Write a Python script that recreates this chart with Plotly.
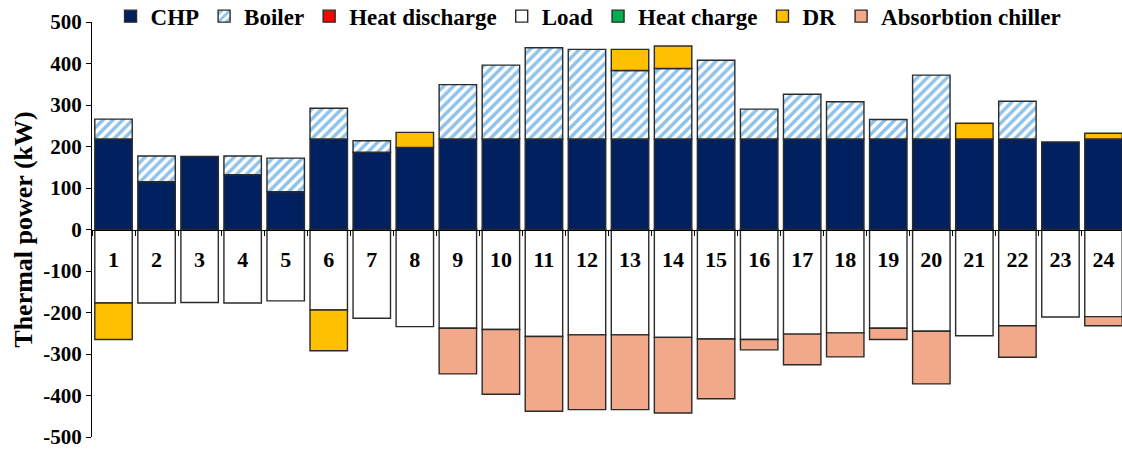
import plotly.graph_objects as go

# Hourly thermal balance (kW); supply stacks upward, consumption downward
hours = [str(h) for h in range(1, 25)]

chp = [218, 115, 176, 132, 91, 218, 186, 198, 218, 218, 218, 218,
       218, 218, 218, 218, 218, 218, 218, 218, 218, 218, 211, 218]
boiler = [48, 62, 0, 45, 81, 74, 28, 0, 131, 178, 220, 216,
          165, 170, 190, 72, 108, 90, 47, 154, 0, 91, 0, 0]
heat_discharge = [0] * 24
load = [-177, -177, -176, -177, -172, -194, -214, -234, -238, -241, -258, -254,
        -254, -260, -264, -265, -252, -249, -238, -245, -256, -232, -211, -210]
heat_charge = [0] * 24
dr = [-88, 0, 0, 0, 0, -98, 0, 36, 0, 0, 0, 0,
      51, 54, 0, 0, 0, 0, 0, 0, 38, 0, 0, 14]
chiller = [0, 0, 0, 0, 0, 0, 0, 0, -110, -156, -180, -180,
           -180, -182, -144, -25, -74, -58, -27, -127, 0, -76, 0, -22]

y_ticks = list(range(-500, 501, 100))
y_tick_text = [str(v) for v in y_ticks]

FONT = "Liberation Serif, Times New Roman, serif"
EDGE = dict(color="#2b2b2b", width=1.4)


def nz(values):
    return [v if v != 0 else None for v in values]


fig = go.Figure()
fig.add_bar(name="CHP", x=hours, y=nz(chp),
            marker=dict(color="#002060", line=EDGE))
fig.add_bar(name="Boiler", x=hours, y=nz(boiler),
            marker=dict(color="white", line=EDGE,
                        pattern=dict(shape="/", fgcolor="#1f86d4", bgcolor="white",
                                     size=7, solidity=0.5)))
fig.add_bar(name="Heat discharge", x=hours, y=nz(heat_discharge),
            marker=dict(color="#ff0000", line=EDGE))
fig.add_bar(name="Load", x=hours, y=nz(load),
            marker=dict(color="white", line=EDGE))
fig.add_bar(name="Heat charge", x=hours, y=nz(heat_charge),
            marker=dict(color="#00b050", line=EDGE))
fig.add_bar(name="DR", x=hours, y=nz(dr),
            marker=dict(color="#ffc000", line=EDGE))
fig.add_bar(name="Absorbtion chiller", x=hours, y=nz(chiller),
            marker=dict(color="#f2a98a", line=EDGE))

fig.update_layout(
    width=1122, height=449,
    margin=dict(l=92, r=0, t=22, b=12, autoexpand=False),
    paper_bgcolor="white", plot_bgcolor="white",
    barmode="relative", bargap=0.13,
    font=dict(family=FONT, size=20, color="black", weight="bold"),
    showlegend=True,
    legend=dict(orientation="h", x=0.018, y=1.014, xanchor="left", yanchor="middle",
                font=dict(family=FONT, size=23, weight="bold"),
                bgcolor="rgba(0,0,0,0)", itemwidth=30, tracegroupgap=0,
                traceorder="normal"),
    xaxis=dict(type="category", range=[-0.5, 23.43], anchor="free", position=0.5,
               showline=True, linecolor="black", linewidth=1.2,
               ticks="outside", ticklen=5, tickcolor="black", tickson="boundaries",
               ticklabelstandoff=10, showgrid=False, zeroline=False,
               tickfont=dict(family=FONT, size=22, weight="bold")),
    yaxis=dict(range=[-500, 500], tickvals=y_ticks, ticktext=y_tick_text,
               showline=True, linecolor="black", linewidth=1.2,
               ticks="outside", ticklen=5, tickcolor="black",
               showgrid=False, zeroline=False, ticklabeloverflow="allow",
               tickfont=dict(family=FONT, size=21, weight="bold"),
               title=dict(text="Thermal power (kW)", standoff=3,
                          font=dict(family=FONT, size=26, weight="bold"))),
)

fig.write_html("out.html")
